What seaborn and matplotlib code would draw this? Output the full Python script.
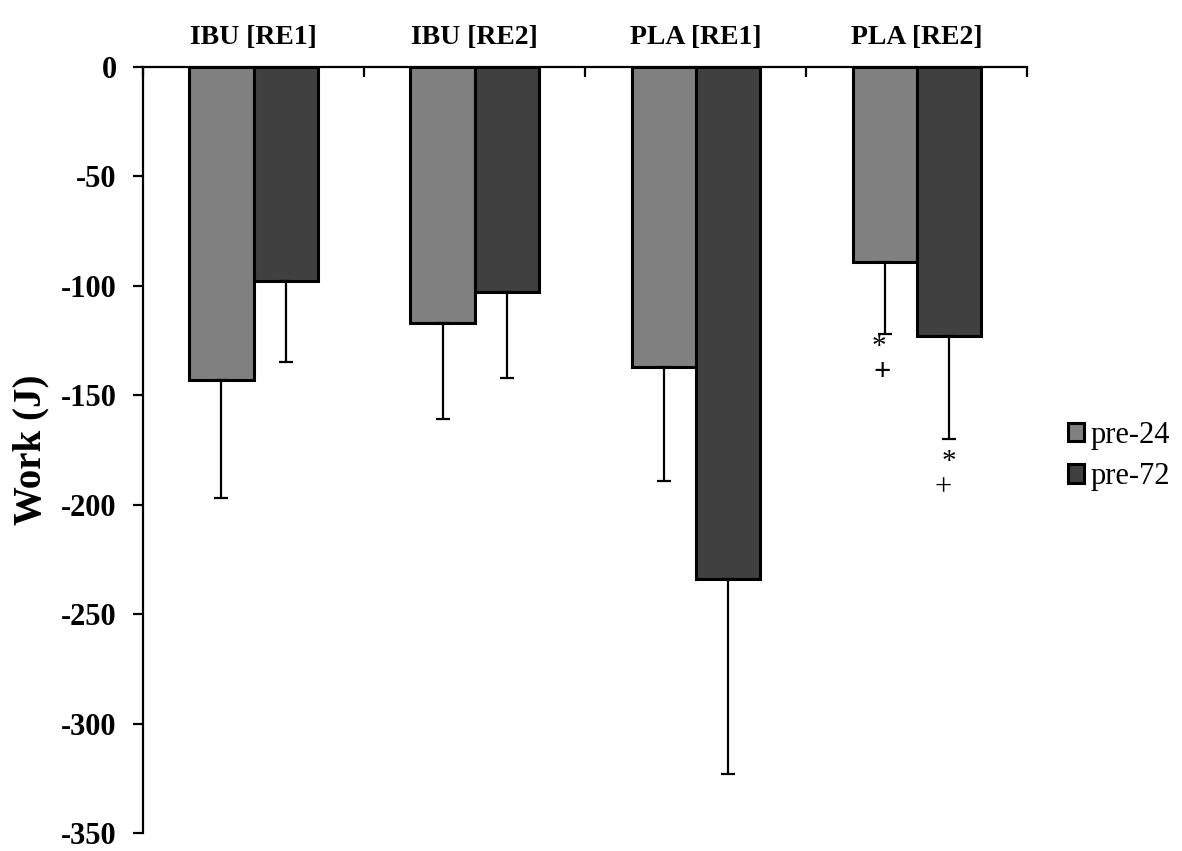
import numpy as np
import pandas as pd
import matplotlib
matplotlib.use("Agg")
import matplotlib.pyplot as plt
import seaborn as sns

groups = ["IBU [RE1]", "IBU [RE2]", "PLA [RE1]", "PLA [RE2]"]
times = ["pre-24", "pre-72"]
pre24 = [-143, -117, -137, -89]
pre72 = [-98, -103, -234, -123]
err24 = [54, 44, 52, 33]
err72 = [37, 39, 89, 47]

df = pd.DataFrame({
    "group": groups * 2,
    "time": [times[0]] * 4 + [times[1]] * 4,
    "work": pre24 + pre72,
    "err": err24 + err72,
})

sns.set_style("white")
plt.rcParams["font.family"] = ["Liberation Serif", "DejaVu Serif"]
plt.rcParams["axes.unicode_minus"] = False
plt.rcParams["text.color"] = "black"
plt.rcParams["axes.labelcolor"] = "black"
plt.rcParams["xtick.color"] = "black"
plt.rcParams["ytick.color"] = "black"

fig = plt.figure(figsize=(11.82, 8.51), dpi=100)
ax = fig.add_axes([0.121, 0.0212, 0.748, 0.9001])

sns.barplot(data=df, x="group", y="work", hue="time", order=groups,
            hue_order=times, palette=["#808080", "#404040"],
            edgecolor="black", linewidth=2.2, width=0.58,
            errorbar=None, ax=ax)

# one-sided error bars (downwards) at the bar centres
bars = [p for c in ax.containers for p in c]
for (_, row), bar in zip(df.iterrows(), bars):
    xc = bar.get_x() + bar.get_width() / 2
    ax.errorbar(xc, row["work"], yerr=[[row["err"]], [0]], fmt="none",
                ecolor="black", elinewidth=1.6, capsize=5, capthick=1.6)

# significance marks for PLA [RE2]
x24 = bars[3].get_x() + bars[3].get_width() / 2
x72 = bars[7].get_x() + bars[7].get_width() / 2
ax.text(x24 - 0.025, -128, "*", ha="center", va="center", fontsize=21)
ax.text(x24 - 0.012, -139.5, "+", ha="center", va="center", fontsize=22,
        fontweight="bold")
ax.text(x72 + 0.003, -180.5, "*", ha="center", va="center", fontsize=21)
ax.text(x72 - 0.025, -192.5, "+", ha="center", va="center", fontsize=22)

ax.set_ylim(-350, 0)
ax.set_xlim(-0.5, 3.5)
ax.set_yticks(np.arange(-350, 1, 50))
ax.tick_params(axis="y", direction="out", length=7, width=1.6, pad=12,
               labelsize=22, left=True)
for t in ax.get_yticklabels():
    t.set_fontweight("bold")

ax.xaxis.tick_top()
ax.set_xticks(range(4))
ax.set_xticklabels(groups, fontsize=20, fontweight="bold")
ax.tick_params(axis="x", length=0, pad=12)
ax.set_xticks(np.arange(-0.5, 4, 1), minor=True)
ax.tick_params(axis="x", which="minor", direction="in", length=7, width=1.6,
               top=True)
ax.set_xlabel("")
ax.set_ylabel("Work (J)", fontsize=28, fontweight="bold", labelpad=8)

for s in ["right", "bottom"]:
    ax.spines[s].set_visible(False)
for s in ["left", "top"]:
    ax.spines[s].set_linewidth(1.6)
    ax.spines[s].set_color("black")

handles, labels = ax.get_legend_handles_labels()
ax.legend(handles, labels, loc="center left", bbox_to_anchor=(0.88, 0.464),
          bbox_transform=fig.transFigure, frameon=False, fontsize=22,
          handlelength=0.55, handleheight=0.55, handletextpad=0.2,
          labelspacing=0.4)

fig.savefig("out.png", dpi=100)
